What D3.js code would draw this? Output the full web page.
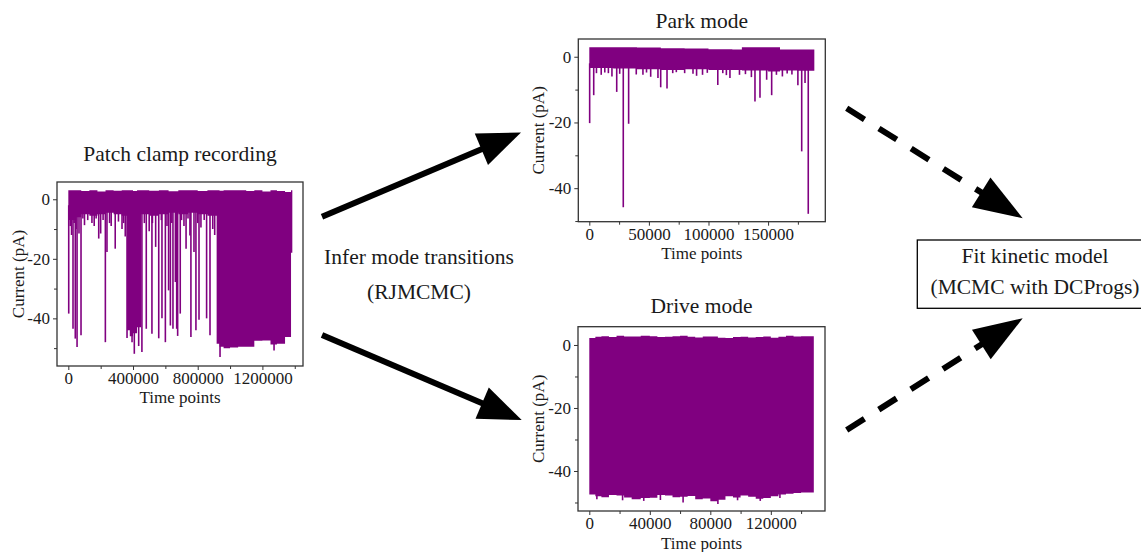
<!DOCTYPE html>
<html>
<head>
<meta charset="utf-8">
<script src="https://cdn.jsdelivr.net/npm/d3@7"></script>
<style>
  body { margin: 0; background: #fff; }
  svg { display: block; font-family: "Liberation Serif", "DejaVu Serif", serif; }
</style>
</head>
<body>
<div id="chart"></div>
<script>
// patch clamp recording (full trace): envelope steps and spikes
const recTime = [0, 40000, 80000, 130000, 180000, 230000, 280000, 330000, 363000, 380000, 400000, 425000, 450000, 500000, 560000, 620000, 680000, 740000, 800000, 860000, 917000, 935000, 960000, 1000000, 1050000, 1100000, 1150000, 1200000, 1250000, 1290000, 1340000, 1377000, 1385000];
const recHigh = [3, 3, 2.8, 3, 2.6, 3, 2.9, 3, 3, 3, 2.8, 3, 3, 2.9, 3, 2.7, 3, 3, 2.8, 3, 3, 2.9, 3, 3, 3, 2.8, 3, 2.6, 3, 2.8, 2.4, 3, 3];
const recLow = [-7, -6, -5, -5.5, -5, -4.5, -5, -5.5, -44, -46, -45, -43, -5, -5.5, -5, -4.5, -5, -4.5, -5, -5.5, -48.5, -49.5, -50, -49.8, -49.5, -49.5, -47.5, -47.4, -48.8, -48.5, -46.3, -18, -18];
const recSpikeTime = [2500, 12000, 20000, 29000, 36000, 43000, 48000, 54000, 66000, 78500, 90000, 100000, 120000, 146000, 160000, 172000, 188000, 200000, 215000, 229000, 239000, 255000, 265000, 290000, 310000, 332000, 342000, 352000, 363000, 394000, 408000, 435000, 455000, 470000, 482000, 500000, 517000, 520000, 540000, 559000, 575000, 579000, 600000, 610000, 620000, 631000, 640000, 647000, 662000, 670000, 676000, 692000, 700000, 715000, 728000, 740000, 752000, 758000, 777000, 789000, 800000, 808000, 820000, 840000, 855000, 876000, 893000, 905000, 938000, 1272000];
const recSpikeDepth = [-38.4, -9, -12, -43.5, -8, -46.8, -10, -49.6, -11.5, -45.7, -6.5, -8.7, -7, -8, -9, -6.5, -13.2, -11.5, -7, -48, -17.7, -8, -9, -16.6, -7.5, -10, -8, -12.5, -46.6, -48, -51.9, -49.3, -51.3, -8, -43.5, -10.7, -45.2, -8, -16, -46.7, -7, -40, -48, -9, -30.6, -42.4, -8, -43.5, -27.8, -43.5, -45.9, -38.4, -7, -9, -16.6, -6.5, -12.2, -46.3, -17.7, -44, -8, -40.5, -9.5, -7, -40, -45.7, -10, -12, -53, -50.8];

// park mode segment
const parkTime = [0, 20000, 40000, 60000, 80000, 100000, 120000, 128000, 150000, 160000, 175000, 188800];
const parkHigh = [2.9, 2.9, 2.8, 2.6, 2.5, 2.3, 2.2, 2.9, 2.9, 2.2, 2.2, 2.2];
const parkLow = [-3.4, -3.6, -3.8, -4, -3.8, -4, -4, -4.2, -4.5, -4.2, -4.3, -4.3];
const parkSpikeTime = [300, 3700, 6000, 10000, 13000, 16000, 19000, 23000, 25500, 28500, 33000, 39400, 45000, 48000, 51500, 57600, 59900, 65200, 70000, 73000, 80000, 87000, 90000, 95000, 99000, 107800, 112000, 115000, 118000, 126000, 131000, 136000, 139000, 143200, 148800, 153000, 157000, 162000, 166000, 170000, 175000, 178200, 181000, 183700];
const parkSpikeDepth = [-20.2, -11.7, -5, -5.5, -4.8, -5, -6, -10.7, -5.2, -45.8, -20.4, -5.4, -5.5, -4.8, -6.1, -6.5, -9.3, -9.7, -5, -4.7, -5, -5.2, -5.8, -5.5, -4.9, -8.6, -5, -5.6, -6.5, -5.5, -5.3, -6.2, -13.6, -12.5, -7, -11.7, -5.5, -6, -5.1, -5.4, -8.7, -28.8, -8, -47.8];

// drive mode segment
const driveTime = [0, 4000, 8000, 13000, 18000, 23000, 28000, 34000, 40000, 45000, 50000, 55000, 60000, 65000, 70000, 75000, 80000, 85000, 90000, 95000, 100000, 105000, 110000, 115000, 120000, 125000, 130000, 135000, 140000, 148400];
const driveHigh = [2.2, 2.6, 2.8, 2.5, 2.9, 2.7, 2.7, 2.9, 2.8, 2.5, 2.6, 2.8, 2.9, 2.6, 2.4, 2.7, 2.7, 2.3, 2.2, 2.5, 2.6, 2.4, 2.5, 2.7, 2.3, 2.6, 2.9, 2.7, 2.8, 2.8];
const driveLow = [-47.5, -48, -48.3, -47.6, -47.8, -48.4, -49, -48.6, -48.5, -47.6, -47.8, -48.3, -48.2, -47.9, -49, -48.7, -49.6, -49.1, -48, -48.4, -47.8, -48.2, -48.8, -48.6, -48, -47.5, -47.2, -47, -46.8, -46.8];
const driveSpikeTime = [5000, 22000, 36000, 47000, 62000, 85000, 98000, 113000, 126000];
const driveSpikeDepth = [-49, -49.3, -49.5, -49.2, -50, -50.5, -49.3, -49.5, -48.6];

// tick values
const yMajor = [0, -20, -40];
const yMinor = [-10, -30, -50];
const recMajor = [0, 400000, 800000, 1200000];
const recMinor = [200000, 600000, 1000000, 1400000];
const parkMajor = [0, 50000, 100000, 150000];
const parkMinor = [25000, 75000, 125000, 175000];
const driveMajor = [0, 40000, 80000, 120000];
const driveMinor = [20000, 60000, 100000, 140000];

const purple = "#800080";
const W = 1141, H = 552;

const svg = d3.select("#chart").append("svg").attr("width", W).attr("height", H);

//draws one current trace panel
function tracePanel(o) {
    let g = svg.append("g");
    let x = d3.scaleLinear().domain(o.xDomain).range([o.left, o.right]);
    let y = d3.scaleLinear().domain(o.yDomain).range([o.bottom, o.top]);

    let rows = o.time.map((t, i) => ({t: t, hi: o.high[i], lo: o.low[i]}));
    let area = d3.area()
        .curve(d3.curveStepAfter)
        .x(d => x(d.t))
        .y0(d => y(d.lo))
        .y1(d => y(d.hi));
    g.append("path").datum(rows)
        .attr("d", area)
        .attr("fill", purple);

    g.selectAll(".spike").data(o.spikeTime).join("line")
        .attr("x1", d => x(d)).attr("x2", d => x(d))
        .attr("y1", y(-2))
        .attr("y2", (d, i) => y(o.spikeDepth[i]))
        .attr("stroke", purple)
        .attr("stroke-width", 1.6);

    //axes, major and minor ticks
    g.append("g").attr("transform", `translate(0,${o.bottom})`)
        .call(d3.axisBottom(x).tickValues(o.xMajor).tickSize(4).tickPadding(2).tickFormat(d => String(d)));
    g.append("g").attr("transform", `translate(0,${o.bottom})`)
        .call(d3.axisBottom(x).tickValues(o.xMinor).tickSize(3).tickFormat(""));
    g.append("g").attr("transform", `translate(${o.left},0)`)
        .call(d3.axisLeft(y).tickValues(yMajor).tickSize(4).tickPadding(3).tickFormat(d => String(d)));
    g.append("g").attr("transform", `translate(${o.left},0)`)
        .call(d3.axisLeft(y).tickValues(yMinor).tickSize(3).tickFormat(""));

    g.selectAll(".domain").remove();
    g.selectAll(".tick line").attr("stroke", "#333");
    g.selectAll(".tick text").attr("font-size", 17).attr("fill", "#1a1a1a")
        .attr("font-family", "Liberation Serif, serif");

    g.append("rect")
        .attr("x", o.left).attr("y", o.top)
        .attr("width", o.right - o.left).attr("height", o.bottom - o.top)
        .attr("fill", "none").attr("stroke", "#333").attr("stroke-width", 1.3);

    let cx = (o.left + o.right) / 2;
    g.append("text").attr("x", cx).attr("y", o.titleY)
        .attr("text-anchor", "middle").attr("font-size", 21.5).attr("fill", "#1a1a1a")
        .text(o.title);
    g.append("text").attr("x", cx).attr("y", o.xlabY)
        .attr("text-anchor", "middle").attr("font-size", 17).attr("fill", "#1a1a1a")
        .text("Time points");
    g.append("text")
        .attr("transform", `translate(${o.ylabX},${(o.top + o.bottom) / 2}) rotate(-90)`)
        .attr("text-anchor", "middle").attr("dy", "0.35em")
        .attr("font-size", 17).attr("fill", "#1a1a1a")
        .text("Current (pA)");
}

tracePanel({
    left: 57, right: 303, top: 182, bottom: 366,
    xDomain: [-70000, 1451000], yDomain: [-56, 5.8],
    time: recTime, high: recHigh, low: recLow,
    spikeTime: recSpikeTime, spikeDepth: recSpikeDepth,
    xMajor: recMajor, xMinor: recMinor,
    title: "Patch clamp recording", titleY: 161, xlabY: 403, ylabX: 18
});

tracePanel({
    left: 578.3, right: 825.3, top: 39, bottom: 221.7,
    xDomain: [-9230, 198000], yDomain: [-50.2, 5.4],
    time: parkTime, high: parkHigh, low: parkLow,
    spikeTime: parkSpikeTime, spikeDepth: parkSpikeDepth,
    xMajor: parkMajor, xMinor: parkMinor,
    title: "Park mode", titleY: 28, xlabY: 259, ylabX: 538
});

tracePanel({
    left: 578, right: 825, top: 326.7, bottom: 511,
    xDomain: [-7470, 155800], yDomain: [-52.7, 5.8],
    time: driveTime, high: driveHigh, low: driveLow,
    spikeTime: driveSpikeTime, spikeDepth: driveSpikeDepth,
    xMajor: driveMajor, xMinor: driveMinor,
    title: "Drive mode", titleY: 313, xlabY: 549, ylabX: 538
});

//arrow from (x1,y1) to tip (x2,y2) with triangle head
function arrow(x1, y1, x2, y2, headLen, halfW, dashed) {
    let dx = x2 - x1, dy = y2 - y1;
    let len = Math.sqrt(dx * dx + dy * dy);
    let ux = dx / len, uy = dy / len;
    let bx = x2 - ux * headLen, by = y2 - uy * headLen;
    svg.append("line")
        .attr("x1", x1).attr("y1", y1)
        .attr("x2", bx + ux * 2).attr("y2", by + uy * 2)
        .attr("stroke", "#000").attr("stroke-width", 6)
        .attr("stroke-dasharray", dashed ? "21,17" : null);
    let pts = [[x2, y2], [bx - uy * halfW, by + ux * halfW], [bx + uy * halfW, by - ux * halfW]];
    svg.append("polygon").attr("points", pts.map(p => p.join(",")).join(" ")).attr("fill", "#000");
}

arrow(322, 216.7, 521, 132.5, 43, 17, false);
arrow(322, 335, 521.7, 420, 43, 17, false);
arrow(846.7, 108.3, 1022.7, 218.3, 49, 17.5, true);
arrow(846.7, 430, 1022.7, 318.3, 49, 17.5, true);

//middle labels
svg.append("text").attr("x", 419).attr("y", 264)
    .attr("text-anchor", "middle").attr("font-size", 21.5).attr("fill", "#1a1a1a")
    .text("Infer mode transitions");
svg.append("text").attr("x", 419).attr("y", 299)
    .attr("text-anchor", "middle").attr("font-size", 21.5).attr("fill", "#1a1a1a")
    .text("(RJMCMC)");

//final box
svg.append("rect").attr("x", 917.3).attr("y", 240).attr("width", 236).attr("height", 68.3)
    .attr("fill", "#fff").attr("stroke", "#000").attr("stroke-width", 1.3);
svg.append("text").attr("x", 1035).attr("y", 263)
    .attr("text-anchor", "middle").attr("font-size", 21.5).attr("fill", "#1a1a1a")
    .text("Fit kinetic model");
svg.append("text").attr("x", 1035).attr("y", 294)
    .attr("text-anchor", "middle").attr("font-size", 21.5).attr("fill", "#1a1a1a")
    .text("(MCMC with DCProgs)");
</script>
</body>
</html>
